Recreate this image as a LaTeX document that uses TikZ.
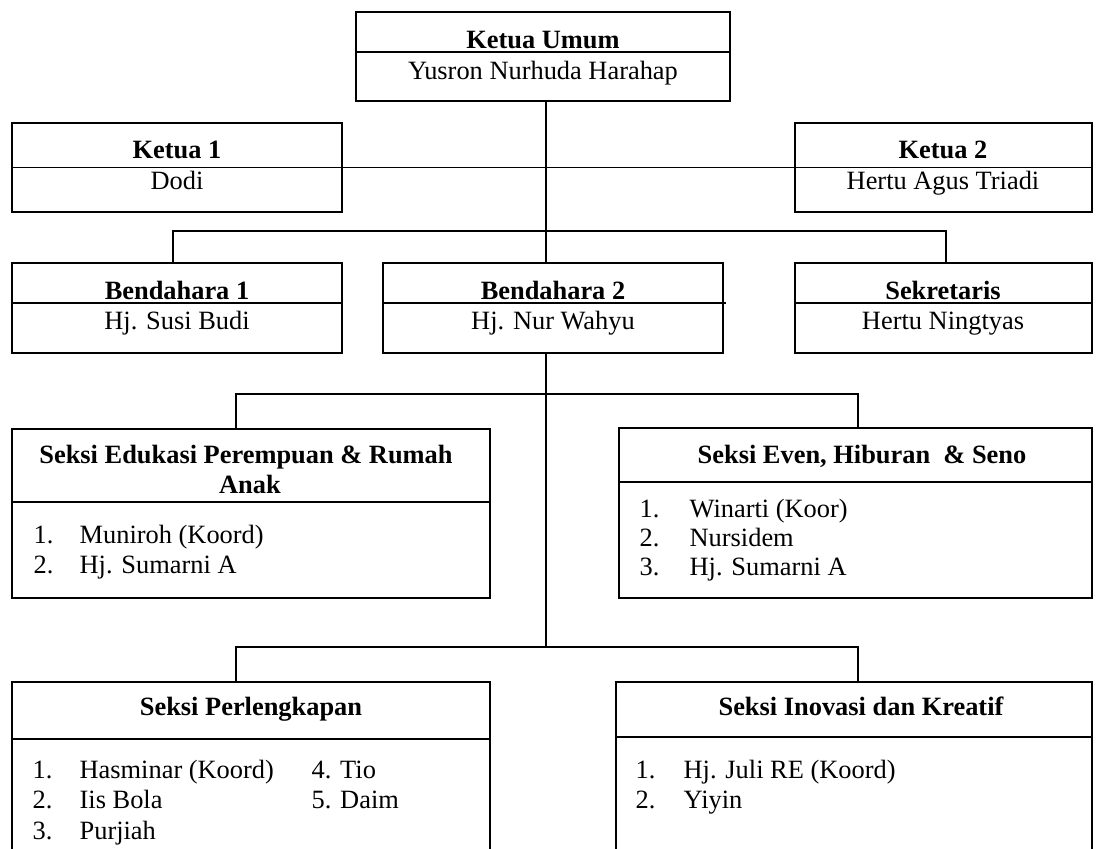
\documentclass[tikz,border=0pt]{standalone}
\usepackage{fontspec}
\setmainfont{Liberation Serif}
\newcommand{\orgfs}{\fontsize{26.4}{30}\selectfont}
\begin{document}
\begin{tikzpicture}[x=1pt,y=-1pt,line width=1.3pt,
  box/.style={draw, rectangle, anchor=north west, inner sep=0pt, outer sep=0pt},
  ttl/.style={anchor=base, inner sep=0pt, font=\orgfs\bfseries},
  nm/.style={anchor=base, inner sep=0pt, font=\orgfs},
  li/.style={anchor=base west, inner sep=0pt, font=\orgfs},
  conn/.style={draw, line width=1.3pt}]
\useasboundingbox (0,0) rectangle (1104,849);
\clip (0,0) rectangle (1104,849);

% boxes
\node[box, minimum width=374pt, minimum height=89pt] (ku) at (356,12) {};
\node[box, minimum width=330pt, minimum height=89pt] (k1) at (12,123) {};
\node[box, minimum width=297pt, minimum height=89pt] (k2) at (795,123) {};
\node[box, minimum width=330pt, minimum height=90pt] (b1) at (12,263) {};
\node[box, minimum width=340pt, minimum height=90pt] (b2) at (383,263) {};
\node[box, minimum width=297pt, minimum height=90pt] (sek) at (795,263) {};
\node[box, minimum width=478pt, minimum height=169pt] (edu) at (12,429) {};
\node[box, minimum width=473pt, minimum height=170pt] (even) at (619,428) {};
\node[box, minimum width=478pt, minimum height=220pt] (perl) at (12,682) {};
\node[box, minimum width=476pt, minimum height=220pt] (inov) at (616,682) {};

% dividers
\draw (356,52) -- (730,52);
\draw (12,303) -- (342,303);
\draw (383,303) -- (726,303);
\draw (795,303) -- (1092,303);
\draw (12,502) -- (490,502);
\draw (619,482) -- (1092,482);
\draw (12,739) -- (490,739);
\draw (616,737) -- (1092,737);

% connectors
\coordinate (spine) at (546,0);
\coordinate (bl) at (173,231);
\coordinate (br) at (946,231);
\coordinate (ml) at (236,394);
\coordinate (mr) at (858,394);
\coordinate (pl) at (236,647);
\coordinate (pr) at (858,647);
\coordinate (pm) at (546,647);
\draw[conn] (ku.south -| spine) -- (b2.north -| spine);
\draw[conn] (k1.west) -- (k2.east);
\draw[conn] (b1.north -| bl) -- (bl) -- (br) -- (sek.north -| br);
\draw[conn] (b2.south -| spine) -- (pm);
\draw[conn] (edu.north -| ml) -- (ml) -- (mr) -- (even.north -| mr);
\draw[conn] (perl.north -| pl) -- (pl) -- (pr) -- (inov.north -| pr);

% texts
\node[ttl] (tku) at (543,48) {Ketua Umum};
\node[nm] (nku) at (543,79) {Yusron Nurhuda Harahap};
\node[ttl] (tk1) at (177,158) {Ketua 1};
\node[nm] (nk1) at (177,189) {Dodi};
\node[ttl] (tk2) at (943,158) {Ketua 2};
\node[nm] (nk2) at (943,189) {Hertu Agus Triadi};
\node[ttl] (tb1) at (177,299) {Bendahara 1};
\node[nm] (nb1) at (177,329) {Hj. Susi Budi};
\node[ttl] (tb2) at (553,299) {Bendahara 2};
\node[nm] (nb2) at (553,329) {Hj. Nur Wahyu};
\node[ttl] (tsek) at (943,299) {Sekretaris};
\node[nm] (nsek) at (943,329) {Hertu Ningtyas};

\node[ttl] (tedu1) at (246,463) {Seksi Edukasi Perempuan \& Rumah};
\node[ttl] (tedu2) at (250,493) {Anak};
\node[li] (e1n) at (33,543) {1.};
\node[li] (e1) at (79,543) {Muniroh (Koord)};
\node[li] (e2n) at (33,573) {2.};
\node[li] (e2) at (79,573) {Hj. Sumarni A};

\node[ttl] (teven) at (862,463) {Seksi Even, Hiburan\ \ \& Seno};
\node[li] (v1n) at (639,517) {1.};
\node[li] (v1) at (689,517) {Winarti (Koor)};
\node[li] (v2n) at (639,546) {2.};
\node[li] (v2) at (689,546) {Nursidem};
\node[li] (v3n) at (639,575) {3.};
\node[li] (v3) at (689,575) {Hj. Sumarni A};

\node[ttl] (tperl) at (251,715) {Seksi Perlengkapan};
\node[li] (p1n) at (32,778) {1.};
\node[li] (p1) at (79,778) {Hasminar (Koord)};
\node[li] (p2n) at (32,808) {2.};
\node[li] (p2) at (79,808) {Iis Bola};
\node[li] (p3n) at (32,839) {3.};
\node[li] (p3) at (79,839) {Purjiah};
\node[li] (p4) at (311,778) {4. Tio};
\node[li] (p5) at (311,808) {5. Daim};

\node[ttl] (tinov) at (861,715) {Seksi Inovasi dan Kreatif};
\node[li] (i1n) at (635,778) {1.};
\node[li] (i1) at (683,778) {Hj. Juli RE (Koord)};
\node[li] (i2n) at (635,808) {2.};
\node[li] (i2) at (683,808) {Yiyin};
\end{tikzpicture}
\end{document}
